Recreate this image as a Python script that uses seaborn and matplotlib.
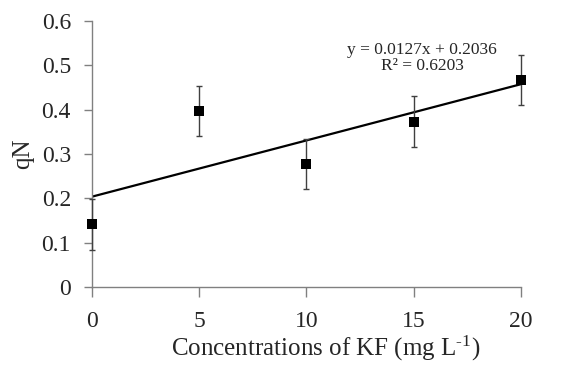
import numpy as np
import pandas as pd
import matplotlib
matplotlib.use("Agg")
import matplotlib.pyplot as plt
import seaborn as sns

# Data
conc = [0, 5, 10, 15, 20]
qn = [0.141, 0.397, 0.277, 0.373, 0.467]
qn_err = [0.057, 0.057, 0.057, 0.057, 0.057]
slope = 0.0127
intercept = 0.2036
r2 = 0.6203
xticks = [0, 5, 10, 15, 20]
yticks = [0, 0.1, 0.2, 0.3, 0.4, 0.5, 0.6]
ytick_labels = ["0", "0.1", "0.2", "0.3", "0.4", "0.5", "0.6"]

sns.set_style("white")
plt.rcParams['font.family'] = ['Liberation Serif', 'DejaVu Serif']
plt.rcParams['mathtext.fontset'] = 'custom'
plt.rcParams['mathtext.rm'] = 'Liberation Serif'
plt.rcParams['mathtext.it'] = 'Liberation Serif:italic'

fig = plt.figure(figsize=(5.63, 3.65), dpi=100)
ax = fig.add_axes([0.163, 0.214, 0.762, 0.728])

df = pd.DataFrame({"conc": conc, "qn": qn, "err": qn_err})

# regression line
xl = np.array([min(conc), max(conc)], dtype=float)
line_df = pd.DataFrame({"x": xl, "y": slope * xl + intercept})
sns.lineplot(data=line_df, x="x", y="y", ax=ax, color="black", linewidth=1.6, zorder=2)

# error bars
eb = ax.errorbar(df["conc"], df["qn"], yerr=df["err"], fmt="none", ecolor="#404040",
                 elinewidth=1.0, capsize=2.5, capthick=1.0, zorder=3)
for artist in eb.lines[1] + eb.lines[2]:
    artist.set_clip_on(False)

sns.scatterplot(data=df, x="conc", y="qn", ax=ax, marker="s", s=60, color="black",
                edgecolor="black", linewidth=0, zorder=4, clip_on=False)

ax.set_xlim(0, 20)
ax.set_ylim(0, 0.6)
ax.set_xticks(xticks)
ax.set_xticklabels([str(v) for v in xticks])
ax.set_yticks(yticks)
ax.set_yticklabels(ytick_labels)

for s in ["top", "right"]:
    ax.spines[s].set_visible(False)
for s in ["left", "bottom"]:
    ax.spines[s].set_color("#808080")
    ax.spines[s].set_linewidth(1.0)
ax.spines["bottom"].set_zorder(1)

ax.tick_params(axis="y", direction="out", length=6, width=1, color="#808080",
               labelsize=17, pad=9, left=True)
ax.tick_params(axis="x", direction="out", length=7, width=1, color="#808080",
               labelsize=17, pad=10, bottom=True)

ax.set_xlabel(r"Concentrations of KF (mg L$^{\text{-1}}$)", fontsize=18)
ax.xaxis.set_label_coords(0.545, -0.175)
ax.set_ylabel("qN", fontsize=18)
ax.yaxis.set_label_coords(-0.135, 0.5)

ax.text(15.4, 0.517, "y = %.4fx + %.4f\nR² = %.4f" % (slope, intercept, r2),
        ha="center", va="center", fontsize=12.5, linespacing=1.05)

fig.savefig("out.png", dpi=100)
